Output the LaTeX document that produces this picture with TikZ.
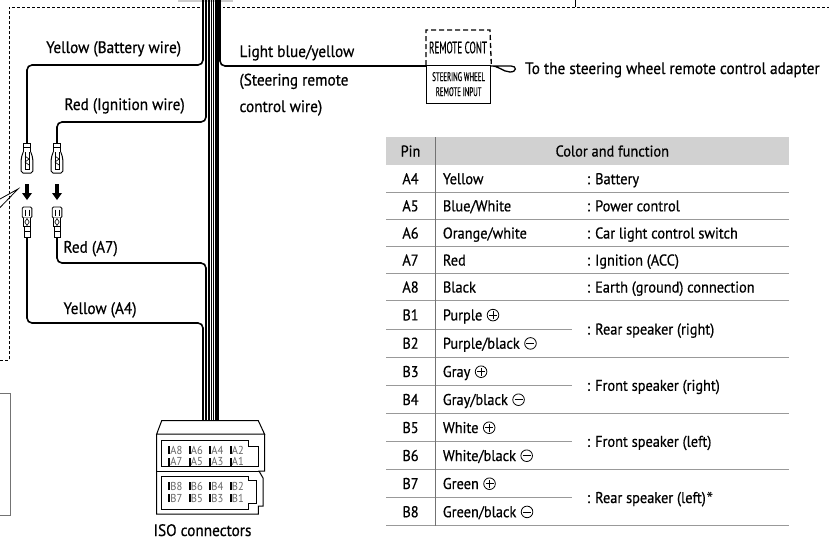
\documentclass[tikz,border=0pt]{standalone}
\usepackage{fontspec}
\setmainfont{PT Sans}[FakeStretch=0.92,FakeBold=0.6]
\newfontfamily\condf{PT Sans}[FakeStretch=0.55,FakeBold=0.4]
\newfontfamily\isof{PT Sans}[FakeStretch=0.92]
\newfontfamily\astf{PT Sans}
\begin{document}
\begin{tikzpicture}[x=1pt,y=-1pt,
  wire/.style={line width=1.6, rounded corners=5},
  core/.style={line width=1.5},
  lab/.style={font=\fontsize{16.6}{19}\selectfont, inner sep=0, anchor=base west},
  tx/.style={font=\fontsize{15.6}{18}\selectfont, inner sep=0, anchor=base west},
  pintx/.style={font=\fontsize{15.6}{18}\selectfont, inner sep=0, anchor=base},
  rowline/.style={draw=black!40, line width=0.9},
  dline/.style={dash pattern=on 3pt off 2pt, line width=0.9},
  isotxt/.style={font=\isof\fontsize{11.5}{12}\selectfont, text=black!60, inner sep=0, anchor=base west},
  sym/.style={line width=0.8},
  conn/.style={line width=0.9, fill=white}]
\useasboundingbox (0,0) rectangle (829,539);
% cut-off gray at top
\fill[black!20] (178,0) rectangle (233,2);
% dashed frame
\draw[dline] (0,360) -- (9.3,360) -- (9.3,7) -- (829,7);
\draw[line width=0.9] (575,7) -- (575,0);
% callout lines
\draw[line width=0.8] (0,199) -- (18,189) -- (0,207.5);
% gray box bottom left
\draw[black!55, line width=0.9] (0,393) -- (10,393) -- (10,515) -- (0,515);
% ---- wires
\fill[white] (200,5) rectangle (223,9);
\draw[wire] (27,143) -- (27,65) -- (203,65) -- (203,0);
\draw[wire] (57,143) -- (57,122) -- (206,122) -- (206,0);
\draw[wire] (27,237) -- (27,323) -- (203,323) -- (203,421);
\draw[wire] (57,237) -- (57,263) -- (206,263) -- (206,421);
\foreach \x in {209,211.3,213.6,215.9,218.2} \draw[core] (\x,0) -- (\x,421);
% remote box
\node[draw, line width=1.3, minimum width=64, minimum height=38, inner sep=0, anchor=north west] (rin) at (426,65) {};
\node[font=\condf\fontsize{12.5}{15}\selectfont, align=center, inner sep=0] (rintx) at ([yshift=0.5]rin.center) {STEERING WHEEL\\REMOTE INPUT};
\draw[line width=1.3, dash pattern=on 5pt off 3pt] (rin.north west) -- ++(0,-35) -- ++(64,0) -- (rin.north east);
\node[font=\condf\fontsize{16.5}{18}\selectfont, inner sep=0] (rcont) at (458,47.5) {REMOTE CONT};
\draw[wire] ([yshift=-1]rin.north west) -- (220,66) -- (220,0);
\coordinate (loopend) at (490,66);
\draw[line width=1.3] (loopend) .. controls (498,65) and (503,72) .. (510,72) .. controls (517,72) and (517,66) .. (511,66) -- (loopend);
% ---- bullet connectors
\foreach \c in {27,57}{
  % male
  \draw[conn] (\c-3.8,143) rectangle (\c+3.8,152);
  \draw[line width=0.8] (\c-3.8,147.5) -- (\c+3.8,147.5);
  \draw[conn, line width=1, rounded corners=1.8] (\c-3.8,152) -- (\c-5.8,158) -- (\c-5.8,173) -- (\c+5.8,173) -- (\c+5.8,158) -- (\c+3.8,152);
  \draw[line width=0.8] (\c-2,152) -- (\c-2,169) -- (\c+2,169) -- (\c+2,152);
  \draw[line width=0.6] (\c-2,156) -- (\c+2,159) -- (\c-2,162) -- (\c+2,165);
  % arrow
  \fill (\c-1.7,184) rectangle (\c+1.7,193.5);
  \fill (\c-5,193) -- (\c+5,193) -- (\c,200) -- cycle;
  % female
  \draw[conn, rounded corners=1.2] (\c-4.8,207) rectangle (\c+4.8,218);
  \draw[line width=0.7] (\c-2,209.5) -- (\c-2,215.5) (\c+2,209.5) -- (\c+2,215.5);
  \draw[conn] (\c-3.3,218) -- (\c-3.3,226) -- (\c+3.3,226) -- (\c+3.3,218);
  \draw[line width=0.6] (\c,218.5) -- (\c-2.2,222) -- (\c,225.5) -- (\c+2.2,222) -- cycle;
  \draw[conn] (\c-3,226) rectangle (\c+3,237);
  \draw[line width=0.7] (\c-3,231.5) -- (\c+3,231.5);
}
% ---- labels
\node[lab] (lyb) at (46,53) {Yellow (Battery wire)};
\node[lab] (lri) at (64.3,110) {Red (Ignition wire)};
\node[lab] (lra7) at (63.3,252.7) {Red (A7)};
\node[lab] (lya4) at (63.3,314) {Yellow (A4)};
\node[lab] (llb1) at (239.3,57) {Light blue/yellow};
\node[lab] (llb2) at (239.3,85.5) {(Steering remote};
\node[lab] (llb3) at (239.3,112) {control wire)};
\node[lab] (ladp) at (525,74) {To the steering wheel remote control adapter};
% ---- ISO connector
\draw[line width=1, fill=white] (161.7,420.7) -- (258.3,420.7) -- (264.5,434) -- (156.7,434) -- cycle;
\draw[line width=1] (156.7,434) -- (156.7,514) -- (258.3,514) -- (258.3,506) -- (263,506) -- (263,478) -- (259,471) -- (264.5,471) -- (264.5,434);
\draw[line width=1] (156.7,471) -- (259,471);
\draw[line width=1] (161.5,440.5) -- (248.5,440.5) -- (248.5,446) -- (258,446) -- (258,466.5) -- (161.5,466.5) -- cycle;
\draw[line width=1] (161.5,476) -- (248.5,476) -- (248.5,480.5) -- (256.5,480.5) -- (256.5,503) -- (248.5,503) -- (248.5,509.5) -- (161.5,509.5) -- cycle;
\newcommand\pb{{\color{black}\rule{1.8pt}{8pt}}\hspace{0.4pt}}
\foreach \t [count=\i from 0] in {A8,A6,A4,A2} \node[isotxt] at (168+20.5*\i,454) {\pb\t};
\foreach \t [count=\i from 0] in {A7,A5,A3,A1} \node[isotxt] at (168+20.5*\i,465.5) {\pb\t};
\foreach \t [count=\i from 0] in {B8,B6,B4,B2} \node[isotxt] at (168+20.5*\i,490) {\pb\t};
\foreach \t [count=\i from 0] in {B7,B5,B3,B1} \node[isotxt] at (168+20.5*\i,502) {\pb\t};
\node[font=\fontsize{16.6}{19}\selectfont, inner sep=0, anchor=base] (iso) at (202.5,536) {ISO connectors};
% ---- table
\fill[black!18] (386,137.3) rectangle (789.3,165);
\foreach \y in {192.3,219.3,246.7,273.3,300.7,357.3,413.3,469.3,525.7} \draw[rowline] (386,\y) -- (789.3,\y);
\foreach \y in {329,385.7,441.7,497.7} \draw[rowline] (386,\y) -- (571.7,\y);
\draw[draw=black!55, line width=0.9] (435.3,137.3) -- (435.3,525.7);
\node[pintx] (hpin) at (410.5,156.5) {Pin};
\node[pintx] (hcol) at (612.3,156.5) {Color and function};
\foreach \p/\c/\f/\y in {A4/Yellow/: Battery/178.7, A5/Blue\slash White/: Power control/205.8, A6/Orange\slash white/: Car light control switch/233, A7/Red/: Ignition (ACC)/260, A8/Black/: Earth (ground) connection/287}{
  \node[pintx] at (410.5,\y+5.5) {\p};
  \node[tx] at (442.7,\y+5.5) {\c};
  \node[tx] at (586.7,\y+5.5) {\f};
}
\foreach \p/\c/\s/\y [count=\k] in {B1/Purple/p/314.9, B2/Purple\slash black/m/343.2, B3/Gray/p/371.5, B4/Gray\slash black/m/399.5, B5/White/p/427.5, B6/White\slash black/m/455.5, B7/Green/p/483.5, B8/Green\slash black/m/511.7}{
  \node[pintx] at (410.5,\y+5.5) {\p};
  \node[tx] (cc\k) at (442.7,\y+5.5) {\c};
  \coordinate (ce\k) at ([xshift=10.5pt,yshift=5.3pt]cc\k.base east);
  \draw[sym] (ce\k) circle[radius=5.8pt];
  \draw[sym] ([xshift=-4pt]ce\k) -- ([xshift=4pt]ce\k);
  \if p\s \draw[sym] ([yshift=-4pt]ce\k) -- ([yshift=4pt]ce\k); \fi
}
\node[tx] (f1) at (586.7,334.5) {: Rear speaker (right)};
\node[tx] (f2) at (586.7,390.8) {: Front speaker (right)};
\node[tx] (f3) at (586.7,446.8) {: Front speaker (left)};
\node[tx] (f4) at (586.7,503) {: Rear speaker (left)\hspace{0.5pt}\raisebox{-3.5pt}{\astf\fontsize{20}{20}\selectfont *}};
\end{tikzpicture}
\end{document}
